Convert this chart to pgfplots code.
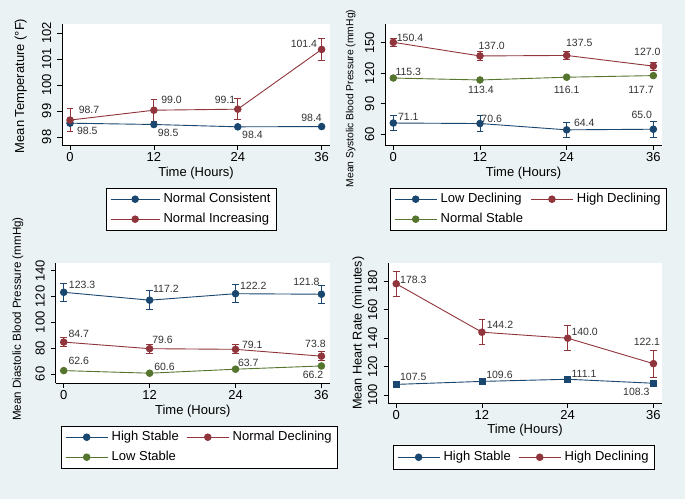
\documentclass[border=0pt]{standalone}
\usepackage{fontspec}
\setmainfont{Liberation Sans}
\usepackage{pgfplots}
\pgfplotsset{compat=1.18}
\definecolor{bg}{HTML}{EAF2F3}
\definecolor{snavy}{HTML}{1A476F}
\definecolor{smaroon}{HTML}{90353B}
\definecolor{sgreen}{HTML}{55752F}
\newcommand{\fs}{\fontsize{13}{13}\selectfont}
\tikzset{lab/.style={font=\fontsize{10.5}{10.5}\selectfont, text=black!80, inner sep=0pt, anchor=center}}
\pgfplotsset{
 stata/.style={
  scale only axis, clip=false,
  axis x line*=bottom, axis y line*=left,
  axis line style={-, line width=0.6pt, black},
  every tick/.style={black, line width=0.6pt},
  major tick length=4.5pt,
  tick align=outside,
  axis background/.style={fill=white},
  xmin=-1.15, xmax=37.2,
  xtick={0,12,24,36},
  /pgf/number format/assume math mode=true,
  tick label style={font=\fs, inner sep=0pt},
  yticklabel style={rotate=90, anchor=south},
  xticklabel style={anchor=north},
  yticklabel shift=6pt, xticklabel shift=3pt,
  xlabel={Time (Hours)},
  legend cell align=left,
  legend style={draw=black, line width=0.5pt, fill=white, font=\fs,
    inner xsep=4pt, inner ysep=3.5pt, row sep=5pt, column sep=2pt,
    nodes={inner sep=1.5pt, text height=9.4pt, text depth=2.6pt},
    /tikz/every even column/.append style={column sep=6pt}},
  legend image code/.code={\draw[mark repeat=2, mark phase=2, #1] plot coordinates {(0pt,0pt) (21pt,0pt) (42pt,0pt)};},
 },
 ser/.style={#1, line width=0.9pt, mark=*, mark size=3.3pt, mark options={solid, fill=#1}},
 eb/.style={/pgfplots/error bars/y dir=both, /pgfplots/error bars/y explicit, /pgfplots/error bars/error bar style={line width=0.9pt, #1}, /pgfplots/error bars/error mark options={rotate=90, mark size=3.3pt, line width=0.9pt, #1}},
}
\newcommand{\lab}[5]{\node[lab, xshift=#3pt, yshift=#4pt] at (axis cs:#1,#2) {#5};}
\begin{document}
\begin{tikzpicture}
\fill[bg] (0,0) rectangle (685pt,499pt);
% Panel 1
\begin{axis}[stata, at={(62pt,354pt)}, anchor=south west, width=268pt, height=121pt,
  ymin=97.69, ymax=102.35, ytick={98,99,100,101,102},
  ylabel={Mean Temperature (°F)},
  ylabel style={font=\fs, at={(axis description cs:-0.154,0.488)}, anchor=center},
  xlabel style={font=\fs, at={(axis description cs:0.5,-0.231)}, anchor=center},
  legend columns=1,
  legend style={at={(axis description cs:0.164,-0.355)}, anchor=north west},
  legend image code/.code={\draw[mark repeat=2, mark phase=2, #1] plot coordinates {(0pt,0pt) (24.5pt,0pt) (49pt,0pt)};},
]
\addplot[ser=snavy] coordinates {(0,98.53) (12,98.48) (24,98.39) (36,98.40)};
\addlegendentry{Normal Consistent}
\addplot[ser=smaroon, eb=smaroon] coordinates {(0,98.65) +- (0,0.43) (12,99.03) +- (0,0.42) (24,99.07) +- (0,0.41) (36,101.37) +- (0,0.42)};
\addlegendentry{Normal Increasing}
\lab{0}{98.53}{17.3}{-7.7}{98.5}
\lab{12}{98.48}{14.3}{-8.4}{98.5}
\lab{24}{98.39}{14.7}{-7.6}{98.4}
\lab{36}{98.40}{-10}{9}{98.4}
\lab{0}{98.65}{19}{10.5}{98.7}
\lab{12}{99.03}{17.7}{10}{99.0}
\lab{24}{99.07}{-12.7}{9}{99.1}
\lab{36}{101.37}{-17.7}{5.3}{101.4}
\end{axis}
% Panel 2
\begin{axis}[stata, at={(385pt,354pt)}, anchor=south west, width=277pt, height=121pt,
  ymin=49.5, ymax=168.4, ytick={60,90,120,150},
  ylabel={Mean Systolic Blood Pressure (mmHg)},
  ylabel style={font=\fontsize{10.3}{10.3}\selectfont, at={(axis description cs:-0.124,0.384)}, anchor=center},
  xlabel style={font=\fs, at={(axis description cs:0.5,-0.231)}, anchor=center},
  legend columns=2,
  legend style={at={(axis description cs:0.018,-0.355)}, anchor=north west},
]
\addplot[ser=snavy, eb=snavy] coordinates {(0,71.1) +- (0,7.5) (12,70.6) +- (0,7.5) (24,64.4) +- (0,7.3) (36,65.0) +- (0,7.6)};
\addlegendentry{Low Declining}
\addplot[ser=smaroon, eb=smaroon] coordinates {(0,150.4) +- (0,4.1) (12,137.0) +- (0,4.0) (24,137.5) +- (0,4.0) (36,127.0) +- (0,3.8)};
\addlegendentry{High Declining}
\addplot[ser=sgreen] coordinates {(0,115.3) (12,113.4) (24,116.1) (36,117.7)};
\addlegendentry{Normal Stable}
\lab{0}{71.1}{15}{6.3}{71.1}
\lab{12}{70.6}{11.7}{4.8}{70.6}
\lab{24}{64.4}{17.6}{7.1}{64.4}
\lab{36}{65.0}{-11.6}{14.2}{65.0}
\lab{0}{150.4}{16.7}{4}{150.4}
\lab{12}{137.0}{11.7}{10.2}{137.0}
\lab{24}{137.5}{12.6}{12.1}{137.5}
\lab{36}{127.0}{-6}{13.8}{127.0}
\lab{0}{115.3}{15}{6.3}{115.3}
\lab{12}{113.4}{1}{-10.4}{113.4}
\lab{24}{116.1}{0}{-13.1}{116.1}
\lab{36}{117.7}{-12.3}{-14.7}{117.7}
\end{axis}
% Panel 3
\begin{axis}[stata, at={(55.5pt,116pt)}, anchor=south west, width=274.5pt, height=120pt,
  ymin=53, ymax=146, ytick={60,80,100,120,140},
  ylabel={Mean Diastolic Blood Pressure (mmHg)},
  ylabel style={font=\fontsize{11.6}{11.6}\selectfont, at={(axis description cs:-0.137,0.533)}, anchor=center},
  xlabel style={font=\fs, at={(axis description cs:0.5,-0.231)}, anchor=center},
  legend columns=2,
  legend style={at={(axis description cs:0.02,-0.358)}, anchor=north west},
]
\addplot[ser=snavy, eb=snavy] coordinates {(0,123.3) +- (0,6.9) (12,117.2) +- (0,7.2) (24,122.2) +- (0,7.0) (36,121.8) +- (0,7.0)};
\addlegendentry{High Stable}
\addplot[ser=smaroon, eb=smaroon] coordinates {(0,84.7) +- (0,3.5) (12,79.6) +- (0,3.4) (24,79.1) +- (0,3.4) (36,73.8) +- (0,3.4)};
\addlegendentry{Normal Declining}
\addplot[ser=sgreen] coordinates {(0,62.6) (12,60.6) (24,63.7) (36,66.2)};
\addlegendentry{Low Stable}
\lab{0}{123.3}{18.4}{7.9}{123.3}
\lab{12}{117.2}{16.3}{11.4}{117.2}
\lab{24}{122.2}{17.7}{8}{122.2}
\lab{36}{121.8}{-15}{11.9}{121.8}
\lab{0}{84.7}{15}{8.1}{84.7}
\lab{12}{79.6}{12.9}{8.7}{79.6}
\lab{24}{79.1}{16.7}{4.3}{79.1}
\lab{36}{73.8}{-6}{11.9}{73.8}
\lab{0}{62.6}{15}{9.9}{62.6}
\lab{12}{60.6}{14.9}{5.9}{60.6}
\lab{24}{63.7}{12.7}{6.5}{63.7}
\lab{36}{66.2}{-8.4}{-9}{66.2}
\end{axis}
% Panel 4
\begin{axis}[stata, at={(388pt,96pt)}, anchor=south west, width=274pt, height=140pt,
  ymin=94.4, ymax=192.9, ytick={100,120,140,160,180},
  ylabel={Mean Heart Rate (minutes)},
  ylabel style={font=\fontsize{12.7}{12.7}\selectfont, at={(axis description cs:-0.108,0.498)}, anchor=center},
  xlabel style={font=\fs, at={(axis description cs:0.5,-0.193)}, anchor=center},
  legend columns=2,
  legend style={at={(axis description cs:0.018,-0.3)}, anchor=north west, inner ysep=4.5pt},
]
\addplot[ser=snavy, mark=square*, mark size=3pt, eb=snavy, legend image post style={mark=*, mark size=3.3pt}] coordinates {(0,107.5) +- (0,2.2) (12,109.6) +- (0,2.2) (24,111.1) +- (0,2.2) (36,108.3) +- (0,2.2)};
\addlegendentry{High Stable}
\addplot[ser=smaroon, eb=smaroon] coordinates {(0,178.3) +- (0,8.9) (12,144.2) +- (0,8.8) (24,140.0) +- (0,8.8) (36,122.1) +- (0,9.4)};
\addlegendentry{High Declining}
\lab{0}{178.3}{17.1}{3.7}{178.3}
\lab{12}{144.2}{18}{7.7}{144.2}
\lab{24}{140.0}{17}{6}{140.0}
\lab{36}{122.1}{-6.5}{21.6}{122.1}
\lab{0}{107.5}{17}{7}{107.5}
\lab{12}{109.6}{17.5}{7}{109.6}
\lab{24}{111.1}{16.3}{5.7}{111.1}
\lab{36}{108.3}{-17.1}{-8.4}{108.3}
\end{axis}
\pgfresetboundingbox
\useasboundingbox (0,0) rectangle (685pt,499pt);
\end{tikzpicture}
\end{document}
